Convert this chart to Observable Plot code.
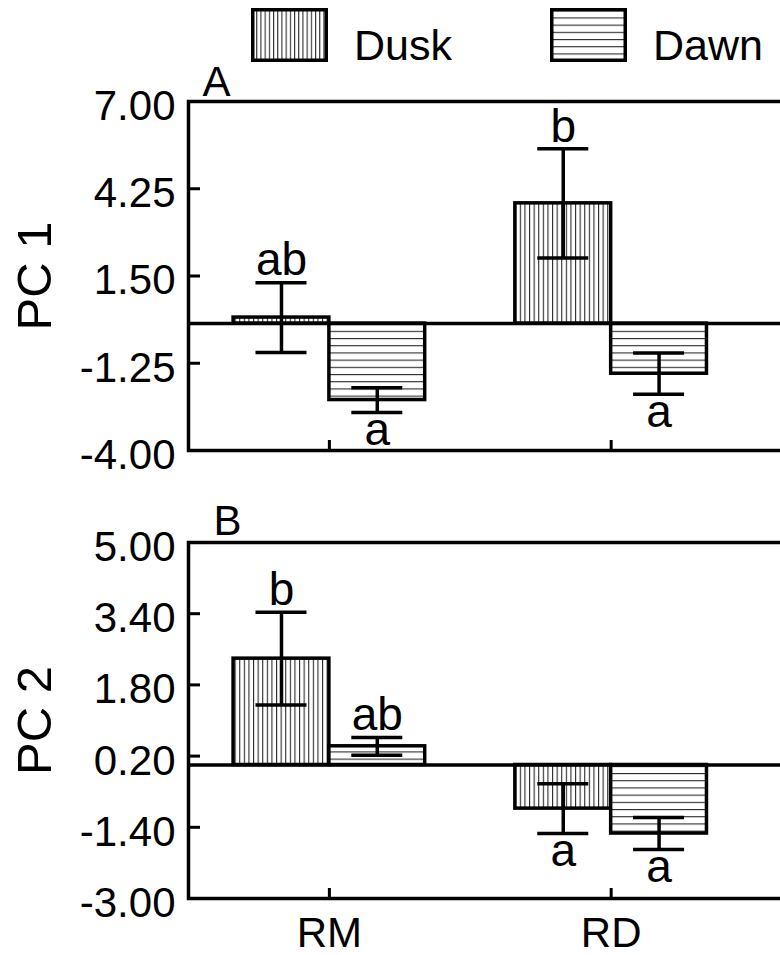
<!DOCTYPE html>
<html><head><meta charset="utf-8">
<script src="https://cdn.jsdelivr.net/npm/d3@7"></script>
<script src="https://cdn.jsdelivr.net/npm/@observablehq/plot@0.6"></script>
<style>
body{margin:0;background:#fff;}
#wrap{position:relative;width:780px;height:955px;overflow:hidden;background:#fff;}
</style></head><body><div id="wrap"></div>
<script>
// ---- data ----
const groups = ["RM", "RD"];
const series = ["Dusk", "Dawn"];

const pc1Dusk = [0.19, 3.79];
const pc1DuskErr = [1.10, 1.72];
const pc1DuskLetters = ["ab", "b"];
const pc1Dawn = [-2.41, -1.58];
const pc1DawnErr = [0.39, 0.65];
const pc1DawnLetters = ["a", "a"];
const pc1Ticks = [7.00, 4.25, 1.50, -1.25, -4.00];

const pc2Dusk = [2.39, -0.98];
const pc2DuskErr = [1.04, 0.56];
const pc2DuskLetters = ["b", "a"];
const pc2Dawn = [0.42, -1.54];
const pc2DawnErr = [0.20, 0.36];
const pc2DawnLetters = ["ab", "a"];
const pc2Ticks = [5.00, 3.40, 1.80, 0.20, -1.40, -3.00];

// ---- layout ----
const FONT = '"Liberation Sans", Arial, sans-serif';
const W = 822, ML = 188;
const xDomain = [0.5, 2.75];
const pxX = (W - ML) / (xDomain[1] - xDomain[0]);
const BW = 0.34;
const LW = 3.5;

function makeRows(dusk, duskErr, duskLet, dawn, dawnErr, dawnLet) {
  const rows = [];
  groups.forEach((g, i) => {
    const c = i + 1;
    rows.push({group: g, series: series[0], x1: c - BW, x2: c, cx: c - BW / 2, mean: dusk[i], err: duskErr[i], letter: duskLet[i]});
    rows.push({group: g, series: series[1], x1: c, x2: c + BW, cx: c + BW / 2, mean: dawn[i], err: dawnErr[i], letter: dawnLet[i]});
  });
  return rows;
}

function addPatterns(svg, id) {
  const defs = d3.select(svg).insert("defs", ":first-child");
  const pv = defs.append("pattern").attr("id", "v" + id).attr("patternUnits", "userSpaceOnUse").attr("width", 4.6).attr("height", 20);
  pv.append("rect").attr("width", 4.6).attr("height", 20).attr("fill", "white");
  pv.append("rect").attr("x", 0).attr("width", 1.1).attr("height", 20).attr("fill", "#2a2a2a");
  const ph = defs.append("pattern").attr("id", "h" + id).attr("patternUnits", "userSpaceOnUse").attr("width", 20).attr("height", 7.2);
  ph.append("rect").attr("width", 20).attr("height", 7.2).attr("fill", "white");
  ph.append("rect").attr("y", 0).attr("width", 20).attr("height", 1.1).attr("fill", "#2a2a2a");
}

function panel({rows, ticks, domain, label, tag, tagDx, tagDy, top, marginTop, frameH, marginBottom, showX, id}) {
  const height = marginTop + frameH + marginBottom;
  const pxY = frameH / (domain[1] - domain[0]);
  const capHalf = 25.5 / pxX;
  const capsUp = rows.map(d => ({...d, yv: d.mean + d.err}));
  const capsDn = rows.map(d => ({...d, yv: d.mean - d.err}));
  const above = rows.filter(d => d.mean >= 0);
  const below = rows.filter(d => d.mean < 0);
  const marks = [
    Plot.rect(rows.filter(d => d.series === "Dusk"), {x1: "x1", x2: "x2", y1: 0, y2: "mean", fill: `url(#v${id})`, stroke: "black", strokeWidth: LW}),
    Plot.rect(rows.filter(d => d.series === "Dawn"), {x1: "x1", x2: "x2", y1: 0, y2: "mean", fill: `url(#h${id})`, stroke: "black", strokeWidth: LW}),
    Plot.ruleY([0], {stroke: "black", strokeWidth: LW}),
    Plot.ruleX(rows, {x: "cx", y1: d => d.mean - d.err, y2: d => d.mean + d.err, stroke: "black", strokeWidth: LW}),
    Plot.ruleY(capsUp, {y: "yv", x1: d => d.cx - capHalf, x2: d => d.cx + capHalf, stroke: "black", strokeWidth: LW}),
    Plot.ruleY(capsDn, {y: "yv", x1: d => d.cx - capHalf, x2: d => d.cx + capHalf, stroke: "black", strokeWidth: LW}),
    Plot.frame({stroke: "black", strokeWidth: LW}),
    Plot.ruleY(ticks, {y: d => d, x1: xDomain[0], x2: xDomain[0] + 12 / pxX, stroke: "black", strokeWidth: 3}),
    Plot.ruleX([1, 2], {x: d => d, y1: domain[0], y2: domain[0] + 10 / pxY, stroke: "black", strokeWidth: 3}),
    Plot.axisY({ticks, tickSize: 0, tickPadding: 13, tickFormat: d => d.toFixed(2), fontSize: 42, dy: 5, label: null}),
    Plot.text(above, {x: "cx", y: d => d.mean + d.err, text: "letter", fontSize: 46, dy: -22, fill: "black"}),
    Plot.text(below, {x: "cx", y: d => d.mean - d.err, text: "letter", fontSize: 46, dy: 18, fill: "black"}),
    Plot.text([tag], {text: d => d, frameAnchor: "top-left", textAnchor: "start", lineAnchor: "middle", dx: tagDx, dy: tagDy, fontSize: 42, fill: "black"}),
    Plot.text([label], {text: d => d, frameAnchor: "left", rotate: -90, textAnchor: "middle", lineAnchor: "middle", dx: -153, fontSize: 49, fill: "black"})
  ];
  if (showX) {
    marks.push(Plot.axisX({ticks: [1, 2], tickFormat: d => groups[d - 1], tickSize: 0, tickPadding: 19, fontSize: 42, label: null}));
  }
  const svg = Plot.plot({
    width: W,
    height,
    marginLeft: ML,
    marginRight: 0,
    marginTop,
    marginBottom,
    x: {domain: xDomain, axis: showX ? undefined : null},
    y: {domain},
    marks
  });
  addPatterns(svg, id);
  svg.style.position = "absolute";
  svg.style.left = "0px";
  svg.style.top = top + "px";
  svg.style.maxWidth = "none";
  svg.style.fontFamily = FONT;
  svg.style.color = "black";
  svg.style.background = "white";
  return svg;
}

const wrap = document.getElementById("wrap");

wrap.appendChild(panel({
  rows: makeRows(pc1Dusk, pc1DuskErr, pc1DuskLetters, pc1Dawn, pc1DawnErr, pc1DawnLetters),
  ticks: pc1Ticks, domain: [-4, 7], label: "PC 1", tag: "A", tagDx: 14, tagDy: -19,
  top: 50, marginTop: 51, frameH: 349, marginBottom: 34, showX: false, id: "A"
}));

wrap.appendChild(panel({
  rows: makeRows(pc2Dusk, pc2DuskErr, pc2DuskLetters, pc2Dawn, pc2DawnErr, pc2DawnLetters),
  ticks: pc2Ticks, domain: [-3, 5], label: "PC 2", tag: "B", tagDx: 25, tagDy: -21,
  top: 485, marginTop: 57, frameH: 356, marginBottom: 57, showX: true, id: "B"
}));

// ---- legend (above the plots) ----
const leg = d3.create("svg").attr("width", 780).attr("height", 70)
  .style("position", "absolute").style("left", "0px").style("top", "0px")
  .style("font-family", FONT);
const ld = leg.append("defs");
const lv = ld.append("pattern").attr("id", "legV").attr("patternUnits", "userSpaceOnUse").attr("width", 4.2).attr("height", 20);
lv.append("rect").attr("width", 4.2).attr("height", 20).attr("fill", "white");
lv.append("rect").attr("width", 1.1).attr("height", 20).attr("fill", "#2a2a2a");
const lh = ld.append("pattern").attr("id", "legH").attr("patternUnits", "userSpaceOnUse").attr("width", 20).attr("height", 7.2).attr("y", 3);
lh.append("rect").attr("width", 20).attr("height", 7.2).attr("fill", "white");
lh.append("rect").attr("width", 20).attr("height", 1.1).attr("fill", "#2a2a2a");
const legendItems = [
  {name: series[0], box: 251, text: 354, fill: "url(#legV)"},
  {name: series[1], box: 550, text: 653, fill: "url(#legH)"}
];
for (const it of legendItems) {
  leg.append("rect").attr("x", it.box + LW / 2).attr("y", 8 + LW / 2).attr("width", 77 - LW).attr("height", 54 - LW)
    .attr("fill", it.fill).attr("stroke", "black").attr("stroke-width", LW);
  leg.append("text").attr("x", it.text).attr("y", 60).attr("font-size", 43).attr("fill", "black").text(it.name);
}
wrap.appendChild(leg.node());
</script></body></html>
